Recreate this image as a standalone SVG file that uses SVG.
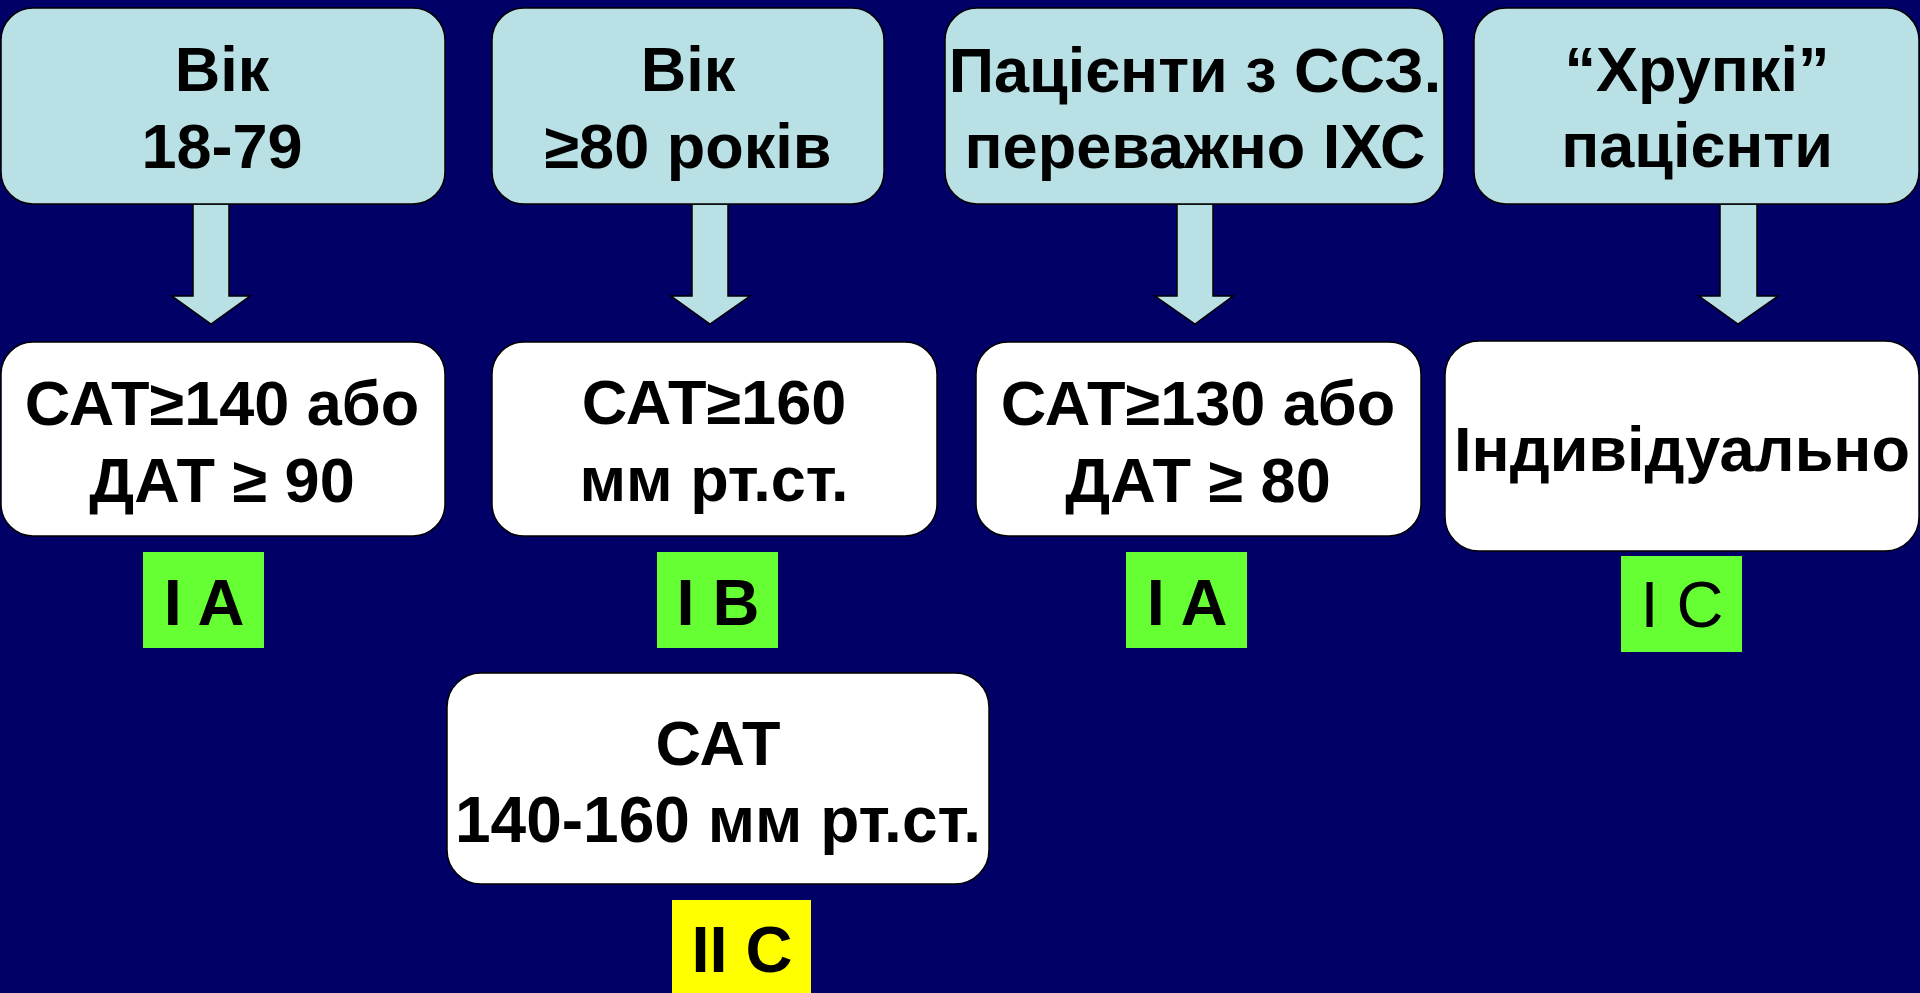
<svg xmlns="http://www.w3.org/2000/svg" width="1920" height="993" viewBox="0 0 1920 993">
  <style>
    .bg { fill: #000066; }
    .top { fill: #B9E0E4; stroke: #000; stroke-width: 1.5; }
    .res { fill: #FFFFFF; stroke: #000; stroke-width: 1.5; }
    .arrow { fill: #B9E0E4; stroke: #000; stroke-width: 1.5; stroke-linejoin: miter; }
    .green { fill: #66FF33; }
    .yellow { fill: #FFFF00; }
    text { font-family: "Liberation Sans", Arial, sans-serif; fill: #000; text-anchor: middle; }
    .t { font-size: 63px; font-weight: bold; }
    .b { font-size: 65px; font-weight: bold; }
    .br { font-size: 65px; font-weight: normal; }
  </style>

  <rect class="bg" x="0" y="0" width="1920" height="993"/>

  <!-- down arrows from each group to its target -->
  <g id="connectors">
    <polygon class="arrow" points="193,204 229,204 229,296 250,296 211,324 172,296 193,296"/>
    <polygon class="arrow" points="692,204 728,204 728,296 750,296 710,324 671,296 692,296"/>
    <polygon class="arrow" points="1177,204 1213,204 1213,296 1233,296 1195,324 1155,296 1177,296"/>
    <polygon class="arrow" points="1720,204 1757,204 1757,296 1778,296 1738,324 1699,296 1720,296"/>
  </g>

  <!-- patient groups -->
  <g id="group-18-79">
    <rect class="top" x="1" y="8" width="444" height="196" rx="32"/>
    <text class="t" x="222" y="91">Вік</text>
    <text class="t" x="222" y="168">18-79</text>
  </g>
  <g id="group-80">
    <rect class="top" x="492" y="8" width="392" height="196" rx="32"/>
    <text class="t" x="688" y="91">Вік</text>
    <text class="t" x="688" y="168">≥80 років</text>
  </g>
  <g id="group-cvd">
    <rect class="top" x="945" y="8" width="499" height="196" rx="32"/>
    <text class="t" x="1195" y="92">Пацієнти з ССЗ.</text>
    <text class="t" x="1195" y="168">переважно ІХС</text>
  </g>
  <g id="group-frail">
    <rect class="top" x="1474" y="8" width="445" height="196" rx="32"/>
    <text class="t" x="1697" y="91">“Хрупкі”</text>
    <text class="t" x="1697" y="167">пацієнти</text>
  </g>

  <!-- thresholds -->
  <g id="target-140-90">
    <rect class="res" x="1" y="342" width="444" height="194" rx="32"/>
    <text class="t" x="222" y="425">САТ≥140 або</text>
    <text class="t" x="222" y="502">ДАТ ≥ 90</text>
  </g>
  <g id="target-160">
    <rect class="res" x="492" y="342" width="445" height="194" rx="32"/>
    <text class="t" x="714" y="424">САТ≥160</text>
    <text class="t" x="714" y="501">мм рт.ст.</text>
  </g>
  <g id="target-130-80">
    <rect class="res" x="976" y="342" width="445" height="194" rx="32"/>
    <text class="t" x="1198" y="425">САТ≥130 або</text>
    <text class="t" x="1198" y="502">ДАТ ≥ 80</text>
  </g>
  <g id="target-individual">
    <rect class="res" x="1445" y="341" width="474" height="210" rx="34"/>
    <text class="t" x="1682" y="471">Індивідуально</text>
  </g>
  <g id="target-140-160">
    <rect class="res" x="447" y="673" width="542" height="211" rx="34"/>
    <text class="t" x="718" y="765">САТ</text>
    <text class="t" x="718" y="842" style="font-size:64px">140-160 мм рт.ст.</text>
  </g>

  <!-- evidence classes -->
  <g id="class-1a-left">
    <rect class="green" x="143" y="552" width="121" height="96"/>
    <text class="b" x="204" y="625">I A</text>
  </g>
  <g id="class-1b">
    <rect class="green" x="657" y="552" width="121" height="96"/>
    <text class="b" x="718" y="625">I B</text>
  </g>
  <g id="class-1a-right">
    <rect class="green" x="1126" y="552" width="121" height="96"/>
    <text class="b" x="1187" y="625">I A</text>
  </g>
  <g id="class-1c">
    <rect class="green" x="1621" y="556" width="121" height="96"/>
    <text class="br" x="1682" y="627">I C</text>
  </g>
  <g id="class-2c">
    <rect class="yellow" x="672" y="900" width="139" height="93"/>
    <text class="b" x="742" y="972">II C</text>
  </g>
</svg>
